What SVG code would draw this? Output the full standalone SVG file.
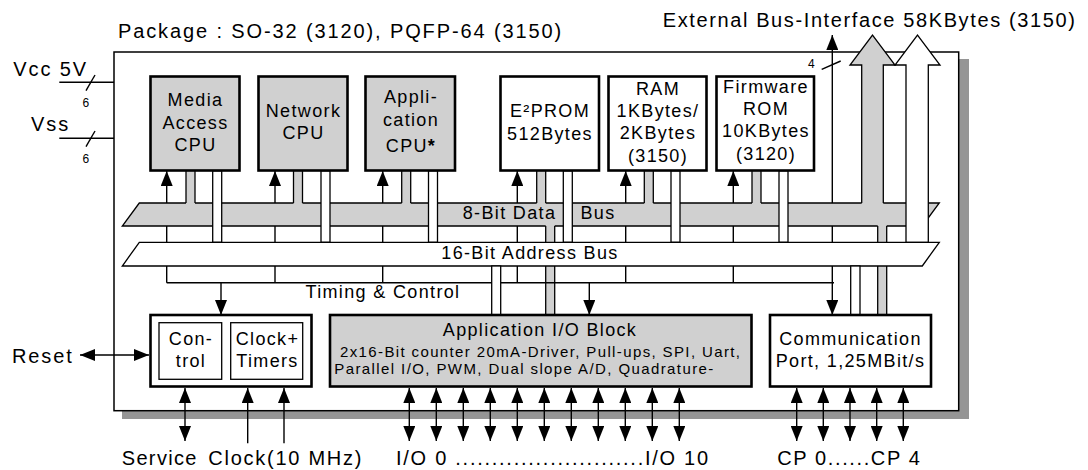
<svg xmlns="http://www.w3.org/2000/svg" width="1088" height="470" viewBox="0 0 1088 470">
<style>
text{font-family:"Liberation Sans",Arial,sans-serif;fill:#000}
.lbl{font-size:20px;letter-spacing:1.9px}
.blk{font-size:18px;letter-spacing:1.35px;text-anchor:middle}
.sm{font-size:15px}
.tiny{font-size:12px}
.ln{stroke:#000;stroke-width:1.4;fill:none}
.box{stroke:#000;stroke-width:2.6}
.thin{stroke:#000;stroke-width:1.3}
.g{fill:#d0d0d0}
.w{fill:#fff}
</style>
<defs>
<marker id="ah" viewBox="0 0 15 12" markerUnits="userSpaceOnUse" markerWidth="15" markerHeight="12" refX="15" refY="6" orient="auto-start-reverse">
<path d="M0,0 L15,6 L0,12 Z" fill="#000"/>
</marker>
</defs>

<g id="package">
<rect x="122" y="59" width="847" height="360" fill="#959595"/>
<rect x="114" y="52" width="844.7" height="358.7" fill="#fff" stroke="#000" stroke-width="1.5"/>
<text class="lbl" x="118" y="38" textLength="445">Package : SO-32 (3120), PQFP-64 (3150)</text>
<text class="lbl" x="662.7" y="26.5" textLength="414">External Bus-Interface 58KBytes (3150)</text>
</g>

<g id="power">
<text class="lbl" x="13.3" y="76">Vcc 5V</text>
<text class="lbl" x="31" y="130.7">Vss</text>
<text class="tiny" x="82.5" y="106.7">6</text>
<text class="tiny" x="82.5" y="162.7">6</text>
<line class="ln" x1="59.3" y1="82.3" x2="114" y2="82.3"/>
<line class="ln" x1="86" y1="90.7" x2="95" y2="75"/>
<line class="ln" x1="59.3" y1="138.3" x2="114" y2="138.3"/>
<line class="ln" x1="86" y1="146.7" x2="95" y2="131"/>
</g>

<g id="connectors">
<!-- thin control lines behind buses -->
<line class="ln" x1="166.7" y1="282.7" x2="166.7" y2="171" marker-end="url(#ah)"/>
<line class="ln" x1="275" y1="282.7" x2="275" y2="171" marker-end="url(#ah)"/>
<line class="ln" x1="382.7" y1="282.7" x2="382.7" y2="171" marker-end="url(#ah)"/>
<line class="ln" x1="517.3" y1="282.7" x2="517.3" y2="171" marker-end="url(#ah)"/>
<line class="ln" x1="625.7" y1="282.7" x2="625.7" y2="171" marker-end="url(#ah)"/>
<line class="ln" x1="733.3" y1="282.7" x2="733.3" y2="171" marker-end="url(#ah)"/>
<line class="ln" x1="832.3" y1="315" x2="832.3" y2="35" marker-start="url(#ah)" marker-end="url(#ah)"/>
<line class="ln" x1="821.7" y1="69.3" x2="840.7" y2="61"/>
<text class="tiny" x="808" y="68">4</text>

<!-- data bus -->
<polygon class="g" points="139.3,203 939.3,203 922.3,226 122.3,226" stroke="#000" stroke-width="1.3"/>
<text class="blk" x="509.5" y="219.3">8-Bit Data</text>
<text class="blk" x="598" y="219.3">Bus</text>

<!-- gray bars below data bus (behind address bus) -->
<rect class="g" x="545.7" y="225" width="9" height="90"/>
<line class="thin" x1="545.7" y1="226" x2="545.7" y2="315"/>
<line class="thin" x1="554.7" y1="226" x2="554.7" y2="315"/>
<rect class="g" x="877.7" y="225" width="9" height="90"/>
<line class="thin" x1="877.7" y1="226" x2="877.7" y2="315"/>
<line class="thin" x1="886.7" y1="226" x2="886.7" y2="315"/>

<!-- gray bars from boxes into data bus -->
<g>
<rect class="g" x="186" y="170" width="9" height="34"/>
<line class="thin" x1="186" y1="170" x2="186" y2="203"/><line class="thin" x1="195" y1="170" x2="195" y2="203"/>
<rect class="g" x="293.5" y="170" width="9" height="34"/>
<line class="thin" x1="293.5" y1="170" x2="293.5" y2="203"/><line class="thin" x1="302.5" y1="170" x2="302.5" y2="203"/>
<rect class="g" x="401.7" y="170" width="9" height="34"/>
<line class="thin" x1="401.7" y1="170" x2="401.7" y2="203"/><line class="thin" x1="410.7" y1="170" x2="410.7" y2="203"/>
<rect class="g" x="536.7" y="170" width="9" height="34"/>
<line class="thin" x1="536.7" y1="170" x2="536.7" y2="203"/><line class="thin" x1="545.7" y1="170" x2="545.7" y2="203"/>
<rect class="g" x="644.3" y="170" width="9" height="34"/>
<line class="thin" x1="644.3" y1="170" x2="644.3" y2="203"/><line class="thin" x1="653.3" y1="170" x2="653.3" y2="203"/>
<rect class="g" x="752" y="170" width="9" height="34"/>
<line class="thin" x1="752" y1="170" x2="752" y2="203"/><line class="thin" x1="761" y1="170" x2="761" y2="203"/>
</g>
<!-- big gray external arrow -->
<polygon class="g" points="861.7,204 861.7,65 850,65 872.5,35 895,65 883.3,65 883.3,204"/>
<polyline class="thin" fill="none" points="861.7,203 861.7,65 850,65 872.5,35 895,65 883.3,65 883.3,203"/>

<!-- white bars through data bus to address bus -->
<g class="w" stroke="#000" stroke-width="1.3">
<rect x="212.7" y="170.7" width="9" height="71.6"/>
<rect x="321" y="170.7" width="9" height="71.6"/>
<rect x="428.5" y="170.7" width="9" height="71.6"/>
<rect x="563.3" y="170.7" width="9" height="71.6"/>
<rect x="671" y="170.7" width="9" height="71.6"/>
<rect x="779" y="170.7" width="9" height="71.6"/>
<polygon points="906,242.3 906,65 895,65 917.5,35 940,65 928.3,65 928.3,242.3"/>
</g>

<!-- address bus -->
<polygon class="w" points="139.3,242.3 939.3,242.3 922.3,266 122.3,266" stroke="#000" stroke-width="1.3"/>
<text class="blk" x="530" y="259.3">16-Bit Address Bus</text>

<!-- timing & control -->
<line class="ln" x1="166.7" y1="282.7" x2="834" y2="282.7"/>
<line class="ln" x1="221" y1="282.7" x2="221" y2="315" marker-end="url(#ah)"/>
<line class="ln" x1="589.3" y1="282.7" x2="589.3" y2="315" marker-end="url(#ah)"/>
<text class="blk" x="383" y="298.3">Timing &amp; Control</text>

<!-- white bars below address bus -->
<rect class="w" x="491.7" y="266" width="9" height="49" stroke="#000" stroke-width="1.3"/>
<rect class="w" x="850.7" y="266" width="9.3" height="49" stroke="#000" stroke-width="1.3"/>

<!-- external pins -->
<line class="ln" x1="80" y1="355" x2="149" y2="355" marker-start="url(#ah)" marker-end="url(#ah)"/>
<line class="ln" x1="185" y1="388" x2="185" y2="441" marker-start="url(#ah)" marker-end="url(#ah)"/>
<line class="ln" x1="247.7" y1="443.3" x2="247.7" y2="388" marker-end="url(#ah)"/>
<line class="ln" x1="284" y1="443.3" x2="284" y2="388" marker-end="url(#ah)"/>
<g marker-start="url(#ah)" marker-end="url(#ah)">
<line class="ln" x1="409.3" y1="388" x2="409.3" y2="441"/>
<line class="ln" x1="436.3" y1="388" x2="436.3" y2="441"/>
<line class="ln" x1="463.3" y1="388" x2="463.3" y2="441"/>
<line class="ln" x1="490.3" y1="388" x2="490.3" y2="441"/>
<line class="ln" x1="517.3" y1="388" x2="517.3" y2="441"/>
<line class="ln" x1="544.3" y1="388" x2="544.3" y2="441"/>
<line class="ln" x1="571.3" y1="388" x2="571.3" y2="441"/>
<line class="ln" x1="598.3" y1="388" x2="598.3" y2="441"/>
<line class="ln" x1="625.3" y1="388" x2="625.3" y2="441"/>
<line class="ln" x1="652.3" y1="388" x2="652.3" y2="441"/>
<line class="ln" x1="679.3" y1="388" x2="679.3" y2="441"/>
<line class="ln" x1="796.7" y1="388" x2="796.7" y2="441"/>
<line class="ln" x1="823.3" y1="388" x2="823.3" y2="441"/>
<line class="ln" x1="850" y1="388" x2="850" y2="441"/>
<line class="ln" x1="876.7" y1="388" x2="876.7" y2="441"/>
<line class="ln" x1="903.3" y1="388" x2="903.3" y2="441"/>
</g>
</g>

<g id="labels">
<text class="lbl" x="12" y="362.7">Reset</text>
<text class="lbl" x="121.7" y="465" textLength="76.7">Service</text>
<text class="lbl" x="208.3" y="465" textLength="155">Clock(10 MHz)</text>
<text class="lbl" x="396" y="465" textLength="314">I/O 0 ..........................I/O 10</text>
<text class="lbl" x="777.3" y="465" textLength="144.4">CP 0......CP 4</text>
</g>

<g id="media-cpu">
<rect class="box g" x="150.5" y="76.5" width="89" height="94"/>
<text class="blk" x="195.5" y="106">Media</text>
<text class="blk" x="195.5" y="128.5">Access</text>
<text class="blk" x="195.5" y="151">CPU</text>
</g>
<g id="network-cpu">
<rect class="box g" x="258.5" y="76.5" width="89" height="94"/>
<text class="blk" x="303.5" y="117">Network</text>
<text class="blk" x="303.5" y="139.3">CPU</text>
</g>
<g id="application-cpu">
<rect class="box g" x="365.5" y="76.5" width="89.5" height="94"/>
<text class="blk" x="411" y="103.3">Appli-</text>
<text class="blk" x="411" y="125.7">cation</text>
<text class="blk" x="411" y="151.7">CPU<tspan font-weight="bold">*</tspan></text>
</g>
<g id="eeprom">
<rect class="box w" x="500.5" y="76.5" width="98.5" height="94"/>
<text class="blk" x="550" y="117.3">E²PROM</text>
<text class="blk" x="550" y="140">512Bytes</text>
</g>
<g id="ram">
<rect class="box w" x="608.5" y="76.5" width="98" height="94"/>
<text class="blk" x="658" y="95">RAM</text>
<text class="blk" x="658" y="117.3">1KBytes/</text>
<text class="blk" x="658" y="139.3">2KBytes</text>
<text class="blk" x="658" y="161.7">(3150)</text>
</g>
<g id="firmware-rom">
<rect class="box w" x="716.5" y="76.5" width="97.5" height="94"/>
<text class="blk" x="766" y="93.3">Firmware</text>
<text class="blk" x="766" y="115">ROM</text>
<text class="blk" x="766" y="137.3">10KBytes</text>
<text class="blk" x="766" y="160">(3120)</text>
</g>
<g id="control-block">
<rect class="box w" x="150.5" y="315" width="161" height="71.5"/>
<rect class="thin w" x="159" y="322.7" width="62.7" height="56.6"/>
<rect class="thin w" x="230.7" y="322.7" width="72" height="56.6"/>
<text class="blk" x="191" y="345">Con-</text>
<text class="blk" x="191" y="366.7">trol</text>
<text class="blk" x="267.5" y="345">Clock+</text>
<text class="blk" x="267.5" y="366.7">Timers</text>
</g>
<g id="io-block">
<rect class="box g" x="330" y="315" width="421.5" height="71.5"/>
<text class="blk" x="540" y="336">Application I/O Block</text>
<text class="sm" x="340" y="356.7" textLength="400">2x16-Bit counter 20mA-Driver, Pull-ups, SPI, Uart,</text>
<text class="sm" x="334.3" y="374" textLength="379">Parallel I/O, PWM, Dual slope A/D, Quadrature-</text>
</g>
<g id="comm-port">
<rect class="box w" x="770" y="315" width="161" height="71.5"/>
<text class="blk" x="850.5" y="345">Communication</text>
<text class="blk" x="850.5" y="366.7">Port, 1,25MBit/s</text>
</g>
</svg>
